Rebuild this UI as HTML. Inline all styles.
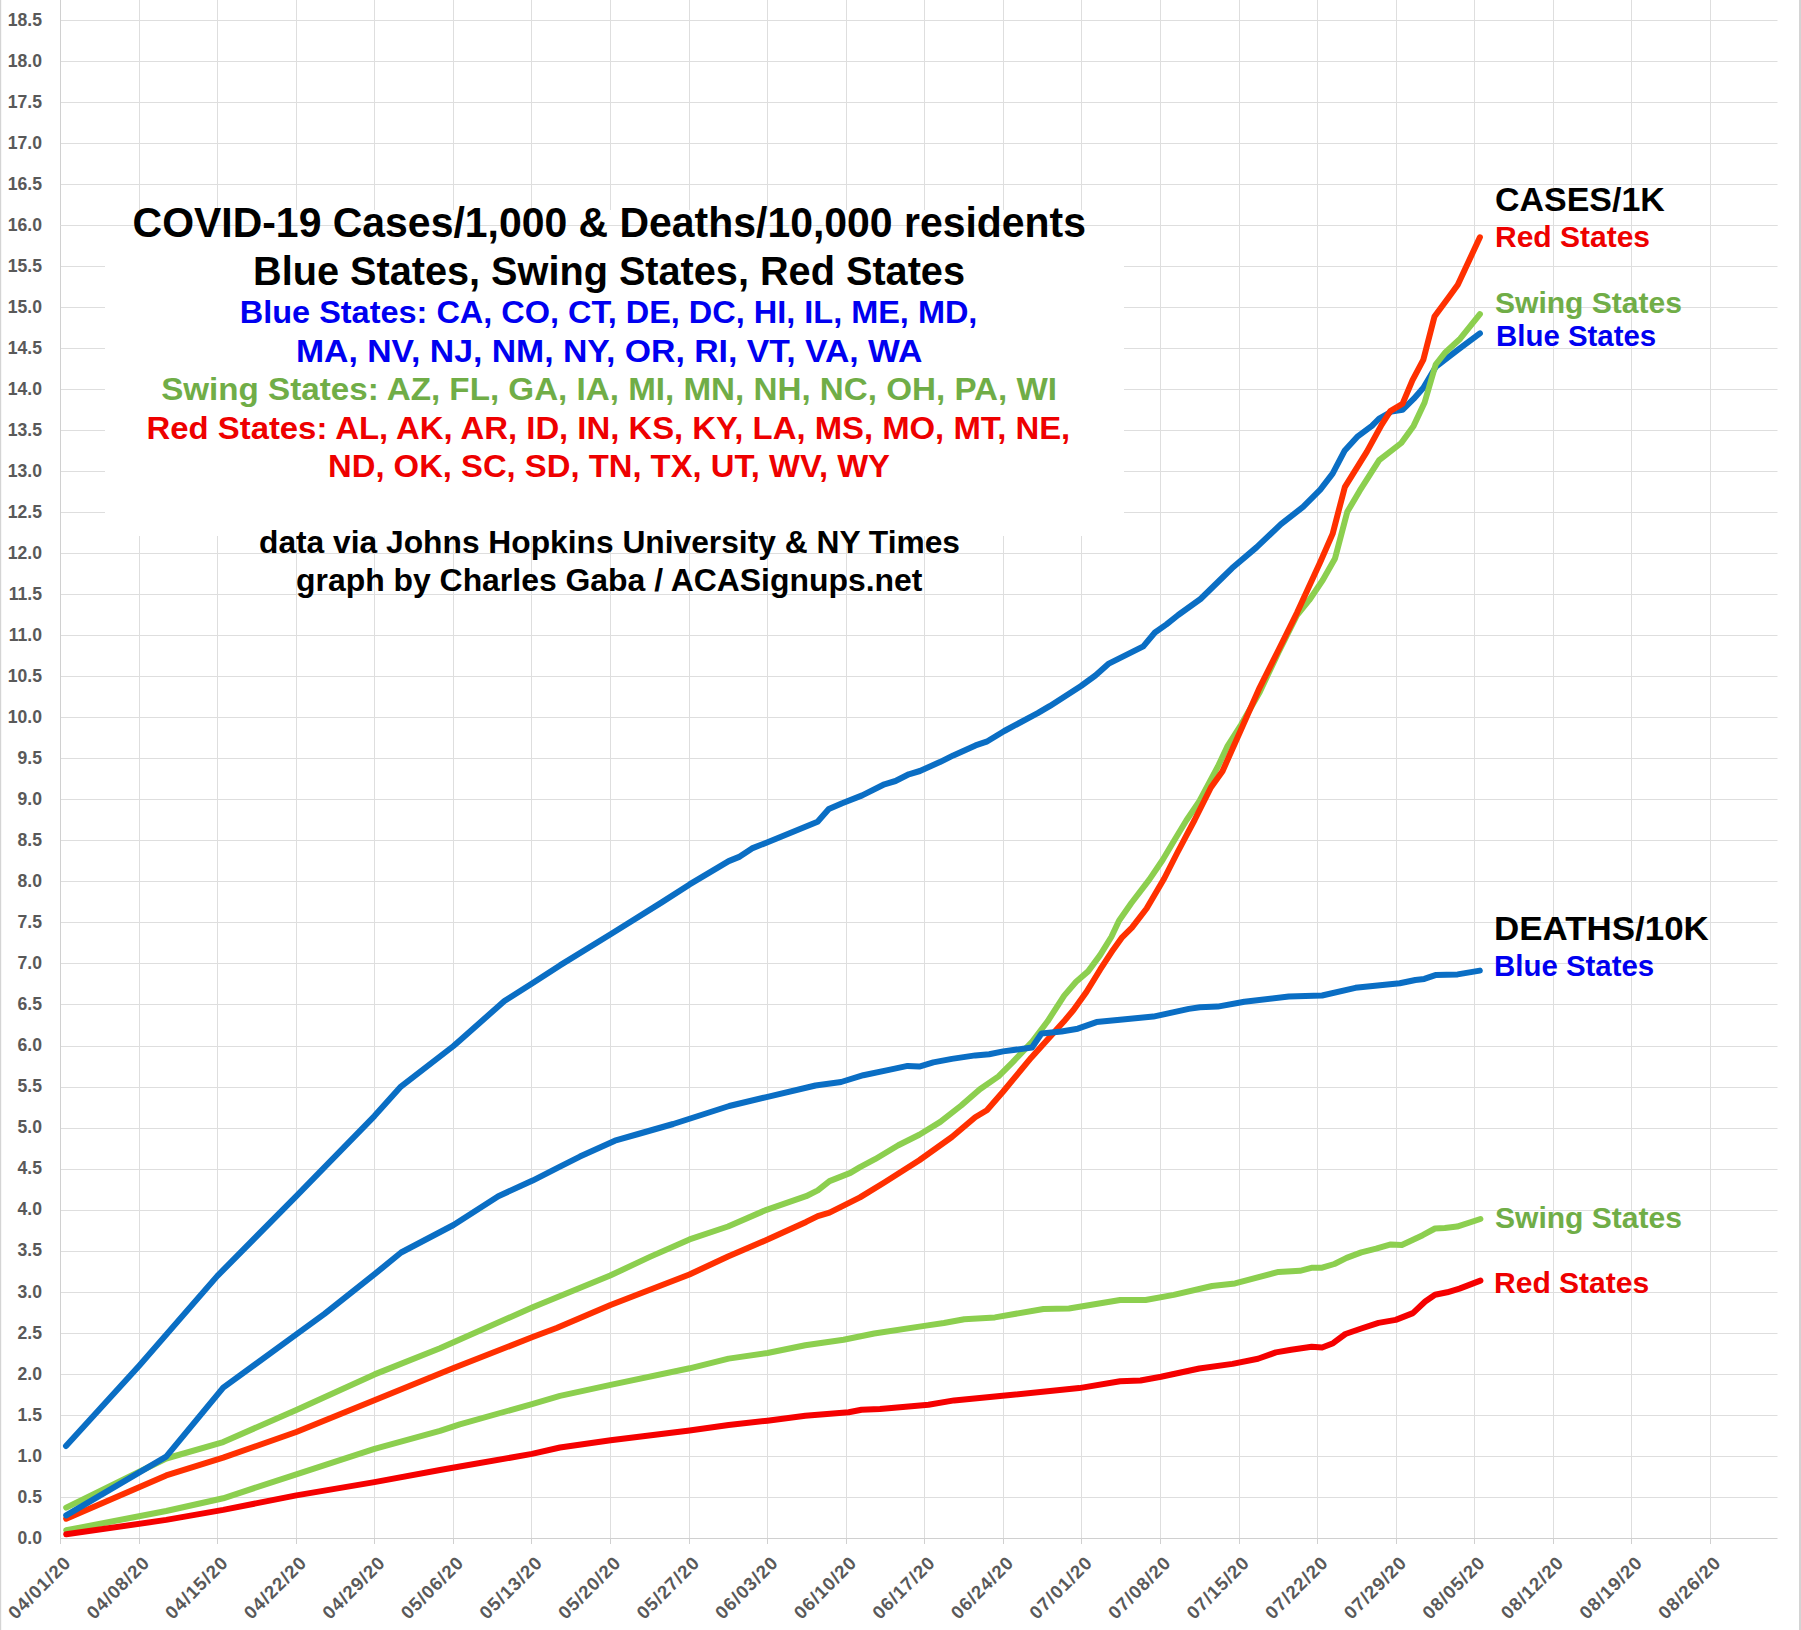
<!DOCTYPE html><html><head><meta charset="utf-8"><style>html,body{margin:0;padding:0;background:#fff;width:1801px;height:1630px;overflow:hidden}svg{display:block}text{font-family:"Liberation Sans",sans-serif;font-weight:bold}</style></head><body>
<svg width="1801" height="1630" viewBox="0 0 1801 1630">
<rect x="0" y="0" width="1801" height="1630" fill="#fff"/>
<rect x="0" y="0" width="1.2" height="1630" fill="#d4d4d4"/>
<rect x="1799" y="0" width="2" height="1630" fill="#d4d4d4"/>
<path d="M60.5 1497.5H1777.5M60.5 1456.5H1777.5M60.5 1415.5H1777.5M60.5 1374.5H1777.5M60.5 1333.5H1777.5M60.5 1292.5H1777.5M60.5 1251.5H1777.5M60.5 1210.5H1777.5M60.5 1169.5H1777.5M60.5 1128.5H1777.5M60.5 1087.5H1777.5M60.5 1046.5H1777.5M60.5 1004.5H1777.5M60.5 963.5H1777.5M60.5 922.5H1777.5M60.5 881.5H1777.5M60.5 840.5H1777.5M60.5 799.5H1777.5M60.5 758.5H1777.5M60.5 717.5H1777.5M60.5 676.5H1777.5M60.5 635.5H1777.5M60.5 594.5H1777.5M60.5 553.5H1777.5M60.5 512.5H1777.5M60.5 471.5H1777.5M60.5 430.5H1777.5M60.5 389.5H1777.5M60.5 348.5H1777.5M60.5 307.5H1777.5M60.5 266.5H1777.5M60.5 225.5H1777.5M60.5 184.5H1777.5M60.5 143.5H1777.5M60.5 102.5H1777.5M60.5 61.5H1777.5M60.5 20.5H1777.5M139.5 0V1538.3M217.5 0V1538.3M296.5 0V1538.3M374.5 0V1538.3M453.5 0V1538.3M531.5 0V1538.3M610.5 0V1538.3M689.5 0V1538.3M767.5 0V1538.3M846.5 0V1538.3M924.5 0V1538.3M1003.5 0V1538.3M1081.5 0V1538.3M1160.5 0V1538.3M1239.5 0V1538.3M1317.5 0V1538.3M1396.5 0V1538.3M1474.5 0V1538.3M1553.5 0V1538.3M1631.5 0V1538.3M1710.5 0V1538.3" stroke="#dedede" stroke-width="1" fill="none"/>
<path d="M60.5 0V1544M139.5 1538V1544M217.5 1538V1544M296.5 1538V1544M374.5 1538V1544M453.5 1538V1544M531.5 1538V1544M610.5 1538V1544M689.5 1538V1544M767.5 1538V1544M846.5 1538V1544M924.5 1538V1544M1003.5 1538V1544M1081.5 1538V1544M1160.5 1538V1544M1239.5 1538V1544M1317.5 1538V1544M1396.5 1538V1544M1474.5 1538V1544M1553.5 1538V1544M1631.5 1538V1544M1710.5 1538V1544" stroke="#d0d0d0" stroke-width="1" fill="none"/>
<path d="M60 1538.5H1777.5" stroke="#d0d0d0" stroke-width="1" fill="none"/>
<rect x="105" y="210" width="1019" height="326" fill="#fff"/>
<path d="M60.5 225.5H1777.5" stroke="#dedede" stroke-width="1" fill="none"/>
<text x="42" y="1543.6" text-anchor="end" font-size="17.6" fill="#595959">0.0</text>
<text x="42" y="1502.6" text-anchor="end" font-size="17.6" fill="#595959">0.5</text>
<text x="42" y="1461.5" text-anchor="end" font-size="17.6" fill="#595959">1.0</text>
<text x="42" y="1420.5" text-anchor="end" font-size="17.6" fill="#595959">1.5</text>
<text x="42" y="1379.5" text-anchor="end" font-size="17.6" fill="#595959">2.0</text>
<text x="42" y="1338.5" text-anchor="end" font-size="17.6" fill="#595959">2.5</text>
<text x="42" y="1297.5" text-anchor="end" font-size="17.6" fill="#595959">3.0</text>
<text x="42" y="1256.4" text-anchor="end" font-size="17.6" fill="#595959">3.5</text>
<text x="42" y="1215.4" text-anchor="end" font-size="17.6" fill="#595959">4.0</text>
<text x="42" y="1174.4" text-anchor="end" font-size="17.6" fill="#595959">4.5</text>
<text x="42" y="1133.3" text-anchor="end" font-size="17.6" fill="#595959">5.0</text>
<text x="42" y="1092.3" text-anchor="end" font-size="17.6" fill="#595959">5.5</text>
<text x="42" y="1051.3" text-anchor="end" font-size="17.6" fill="#595959">6.0</text>
<text x="42" y="1010.3" text-anchor="end" font-size="17.6" fill="#595959">6.5</text>
<text x="42" y="969.2" text-anchor="end" font-size="17.6" fill="#595959">7.0</text>
<text x="42" y="928.2" text-anchor="end" font-size="17.6" fill="#595959">7.5</text>
<text x="42" y="887.2" text-anchor="end" font-size="17.6" fill="#595959">8.0</text>
<text x="42" y="846.2" text-anchor="end" font-size="17.6" fill="#595959">8.5</text>
<text x="42" y="805.1" text-anchor="end" font-size="17.6" fill="#595959">9.0</text>
<text x="42" y="764.1" text-anchor="end" font-size="17.6" fill="#595959">9.5</text>
<text x="42" y="723.1" text-anchor="end" font-size="17.6" fill="#595959">10.0</text>
<text x="42" y="682.1" text-anchor="end" font-size="17.6" fill="#595959">10.5</text>
<text x="42" y="641" text-anchor="end" font-size="17.6" fill="#595959">11.0</text>
<text x="42" y="600" text-anchor="end" font-size="17.6" fill="#595959">11.5</text>
<text x="42" y="559" text-anchor="end" font-size="17.6" fill="#595959">12.0</text>
<text x="42" y="518" text-anchor="end" font-size="17.6" fill="#595959">12.5</text>
<text x="42" y="477" text-anchor="end" font-size="17.6" fill="#595959">13.0</text>
<text x="42" y="435.9" text-anchor="end" font-size="17.6" fill="#595959">13.5</text>
<text x="42" y="394.9" text-anchor="end" font-size="17.6" fill="#595959">14.0</text>
<text x="42" y="353.9" text-anchor="end" font-size="17.6" fill="#595959">14.5</text>
<text x="42" y="312.8" text-anchor="end" font-size="17.6" fill="#595959">15.0</text>
<text x="42" y="271.8" text-anchor="end" font-size="17.6" fill="#595959">15.5</text>
<text x="42" y="230.8" text-anchor="end" font-size="17.6" fill="#595959">16.0</text>
<text x="42" y="189.8" text-anchor="end" font-size="17.6" fill="#595959">16.5</text>
<text x="42" y="148.8" text-anchor="end" font-size="17.6" fill="#595959">17.0</text>
<text x="42" y="107.7" text-anchor="end" font-size="17.6" fill="#595959">17.5</text>
<text x="42" y="66.7" text-anchor="end" font-size="17.6" fill="#595959">18.0</text>
<text x="42" y="25.7" text-anchor="end" font-size="17.6" fill="#595959">18.5</text>
<text transform="translate(72.3 1563.7) rotate(-45)" text-anchor="end" font-size="18.5" fill="#595959" letter-spacing="1">04/01/20</text>
<text transform="translate(150.9 1563.7) rotate(-45)" text-anchor="end" font-size="18.5" fill="#595959" letter-spacing="1">04/08/20</text>
<text transform="translate(229.4 1563.7) rotate(-45)" text-anchor="end" font-size="18.5" fill="#595959" letter-spacing="1">04/15/20</text>
<text transform="translate(308 1563.7) rotate(-45)" text-anchor="end" font-size="18.5" fill="#595959" letter-spacing="1">04/22/20</text>
<text transform="translate(386.6 1563.7) rotate(-45)" text-anchor="end" font-size="18.5" fill="#595959" letter-spacing="1">04/29/20</text>
<text transform="translate(465.1 1563.7) rotate(-45)" text-anchor="end" font-size="18.5" fill="#595959" letter-spacing="1">05/06/20</text>
<text transform="translate(543.7 1563.7) rotate(-45)" text-anchor="end" font-size="18.5" fill="#595959" letter-spacing="1">05/13/20</text>
<text transform="translate(622.3 1563.7) rotate(-45)" text-anchor="end" font-size="18.5" fill="#595959" letter-spacing="1">05/20/20</text>
<text transform="translate(700.9 1563.7) rotate(-45)" text-anchor="end" font-size="18.5" fill="#595959" letter-spacing="1">05/27/20</text>
<text transform="translate(779.4 1563.7) rotate(-45)" text-anchor="end" font-size="18.5" fill="#595959" letter-spacing="1">06/03/20</text>
<text transform="translate(858 1563.7) rotate(-45)" text-anchor="end" font-size="18.5" fill="#595959" letter-spacing="1">06/10/20</text>
<text transform="translate(936.6 1563.7) rotate(-45)" text-anchor="end" font-size="18.5" fill="#595959" letter-spacing="1">06/17/20</text>
<text transform="translate(1015.1 1563.7) rotate(-45)" text-anchor="end" font-size="18.5" fill="#595959" letter-spacing="1">06/24/20</text>
<text transform="translate(1093.7 1563.7) rotate(-45)" text-anchor="end" font-size="18.5" fill="#595959" letter-spacing="1">07/01/20</text>
<text transform="translate(1172.3 1563.7) rotate(-45)" text-anchor="end" font-size="18.5" fill="#595959" letter-spacing="1">07/08/20</text>
<text transform="translate(1250.8 1563.7) rotate(-45)" text-anchor="end" font-size="18.5" fill="#595959" letter-spacing="1">07/15/20</text>
<text transform="translate(1329.4 1563.7) rotate(-45)" text-anchor="end" font-size="18.5" fill="#595959" letter-spacing="1">07/22/20</text>
<text transform="translate(1408 1563.7) rotate(-45)" text-anchor="end" font-size="18.5" fill="#595959" letter-spacing="1">07/29/20</text>
<text transform="translate(1486.6 1563.7) rotate(-45)" text-anchor="end" font-size="18.5" fill="#595959" letter-spacing="1">08/05/20</text>
<text transform="translate(1565.1 1563.7) rotate(-45)" text-anchor="end" font-size="18.5" fill="#595959" letter-spacing="1">08/12/20</text>
<text transform="translate(1643.7 1563.7) rotate(-45)" text-anchor="end" font-size="18.5" fill="#595959" letter-spacing="1">08/19/20</text>
<text transform="translate(1722.3 1563.7) rotate(-45)" text-anchor="end" font-size="18.5" fill="#595959" letter-spacing="1">08/26/20</text>
<polyline points="66,1446 139.4,1365.4 217.4,1275.9 296.3,1196.1 374.4,1116.1 400.9,1086.6 453.5,1046 459.8,1040.5 504.4,1001 532.4,983.2 559.9,965.4 610.6,934.3 662.1,902.1 689.6,884.4 728.7,861.1 739.8,856.6 752,848.4 767.6,842.2 817.6,821.7 828.8,809 842.2,803.2 862.2,795.4 884.4,784.3 895.5,781 908.8,774.3 919.9,771 939.9,762.1 953.3,755.4 975.5,745.4 986.6,741.7 1004.3,731 1037.7,713.2 1050,705.9 1081,686 1095.4,675.5 1108.3,663.9 1143.3,646.4 1154.9,632.5 1166.5,624.4 1178.2,615 1200.5,599 1221,579 1231.9,568.3 1256.5,547.4 1281,524.1 1303.1,506.9 1320.3,489.7 1332.6,473.7 1344.8,450.4 1357.1,436.9 1371.9,425.9 1379.2,418.5 1391.5,411.6 1402.5,409.9 1413.6,398.9 1423.4,387.8 1435.7,366.9 1457.8,349.8 1479.9,333.3" fill="none" stroke="#0a6ec4" stroke-width="6.0" stroke-linejoin="round" stroke-linecap="round"/>
<polyline points="66.2,1507.6 166.2,1458.5 223.2,1442.1 296.3,1409.9 374.5,1374.4 440,1348.3 459.8,1339.5 533.3,1307 610.2,1275.5 649.9,1256.9 689.5,1239.4 728,1226.5 766.5,1209.8 806.1,1196.2 817.8,1190.4 829.5,1181.1 850.4,1172.9 860,1167.1 875,1159.2 898.3,1145.2 919.3,1134.7 940.3,1121.9 961.2,1105.5 979.9,1089.2 998.5,1076.4 1012.5,1062.4 1032.3,1041.6 1047.6,1021.3 1064.2,995.6 1076.1,981.7 1088.1,971.4 1100.1,955.1 1111.3,937 1119,920.7 1131.4,903 1149.3,879.6 1162.6,860 1174.2,840.5 1186.3,820.5 1199.2,801.5 1217.9,766.5 1227.2,746.7 1241.2,724.6 1259.8,691.9 1278.5,652.3 1297.1,615 1309.2,600.2 1322.8,580 1335,558.4 1347.3,511.8 1359.6,490.9 1379.2,460.2 1401.3,443 1413.6,425.9 1424.6,402.5 1435.7,364.5 1445.5,352.2 1460.2,338.7 1479.9,314.2" fill="none" stroke="#8ccf4f" stroke-width="6.0" stroke-linejoin="round" stroke-linecap="round"/>
<polyline points="66.2,1518.7 166.2,1475.4 223.2,1457.7 296.3,1432 374.4,1400.3 453.6,1368 532.6,1337 556.6,1328 610.5,1305 689.4,1274.5 728,1256.5 767.5,1239.6 806.1,1221.9 817.8,1216.1 829.5,1212.6 860,1197.4 884.3,1182.5 919.3,1160.3 951.9,1137 975.2,1117.2 986.9,1110.2 1003.2,1091.5 1031.2,1057.7 1063.8,1021.6 1073.5,1010 1086.4,992 1100.1,969.7 1113,949.9 1121.6,937.9 1131.9,927.6 1146.6,908.5 1164.2,878.5 1176.9,853.5 1185.8,836.6 1194.6,820 1210.9,787.5 1222.5,771.2 1241.2,729.2 1259.8,687.3 1278.5,650 1297.1,612.6 1320.3,562.1 1332.6,533.9 1344.8,487.2 1366.9,451.6 1381.7,424.6 1390.3,411.1 1402.5,403.8 1412.4,380.4 1423.4,359.6 1434.5,316.6 1448,298.2 1457.8,284.7 1479.9,237.3" fill="none" stroke="#ff3000" stroke-width="6.0" stroke-linejoin="round" stroke-linecap="round"/>
<polyline points="66.2,1515.4 166.2,1456.6 223.2,1387.7 296.3,1334.4 324.5,1313.9 374.6,1274.2 401.1,1252.5 453.5,1225 498.3,1196.2 532.6,1180.6 560,1166.6 579.9,1156.6 614.9,1140.7 638.2,1134 673.2,1124 729.2,1106 766.5,1097.1 815.5,1085.5 841.1,1082 863.3,1075.2 891.3,1069.4 907.6,1065.9 919.3,1066.6 933.3,1062.4 951.9,1058.9 975.2,1055.4 989.2,1054.2 1003.2,1051.4 1032,1047.5 1041.5,1033.5 1061.5,1031.5 1077.8,1028.7 1096.5,1022.1 1120,1019.7 1153.3,1016.6 1188.8,1008.9 1199.9,1007.3 1217.7,1006.6 1244.4,1001.7 1288.8,996.6 1322.1,995.5 1355.4,987.8 1399.8,983.3 1415.4,980 1424.3,978.9 1435.4,975.1 1457.6,974.4 1479.8,970.6" fill="none" stroke="#0a6ec4" stroke-width="6.0" stroke-linejoin="round" stroke-linecap="round"/>
<polyline points="66.2,1530.3 166.2,1511 223.2,1498.3 296.3,1474.3 374.5,1448.8 440,1430.9 459.8,1424.3 532,1404.1 560,1395.9 610.6,1384.9 689.6,1368.3 728.6,1358.6 767.5,1353 805.3,1345.3 843.6,1339.7 874.2,1333.5 926,1325.6 943.9,1323 964.3,1319.2 994.9,1317.4 1043.5,1309 1069,1308.5 1120.1,1300 1145.6,1300 1173.7,1294.9 1212,1286 1235,1283.4 1278.5,1271.9 1300,1270.8 1312.3,1267.7 1322.1,1267.7 1334.4,1264 1346.6,1257.9 1361.3,1252.4 1376.1,1248.7 1390.8,1244.4 1401.8,1245 1422.7,1235.2 1435,1228.5 1444.8,1227.9 1457.1,1226.6 1480.4,1219" fill="none" stroke="#8ccf4f" stroke-width="6.0" stroke-linejoin="round" stroke-linecap="round"/>
<polyline points="66.2,1534.3 166.2,1519.9 223.2,1509.9 296.3,1495.4 374.5,1482.1 440,1470 459.8,1466.5 532,1453.9 560,1447.5 610.6,1440.3 689.6,1430.4 728.6,1425 767.5,1420.7 805.3,1415.8 848.7,1412.2 861.5,1409.7 880,1409.1 928.5,1404.7 954.1,1400.4 1007.7,1395.3 1079.2,1388.1 1120.1,1381.3 1140.5,1380.5 1161,1376.7 1199.3,1368.5 1232.5,1363.9 1258,1358.8 1275.9,1352.4 1291.2,1349.8 1311.7,1346.8 1322.1,1347.5 1333.1,1343.2 1345.4,1334 1361.3,1328.5 1378.5,1322.9 1395.7,1319.9 1412.9,1313.1 1425.2,1301.5 1435,1294.7 1447.2,1292.3 1459.5,1288.6 1480.4,1280.6" fill="none" stroke="#f50000" stroke-width="6.0" stroke-linejoin="round" stroke-linecap="round"/>
<text x="132.6" y="237.2" font-size="42.4" fill="#000" textLength="953.4" lengthAdjust="spacingAndGlyphs">COVID-19 Cases/1,000 &amp; Deaths/10,000 residents</text>
<text x="253" y="285" font-size="41" fill="#000" textLength="712" lengthAdjust="spacingAndGlyphs">Blue States, Swing States, Red States</text>
<text x="239.8" y="323" font-size="31.2" fill="#0000f0" textLength="737.6" lengthAdjust="spacingAndGlyphs">Blue States: CA, CO, CT, DE, DC, HI, IL, ME, MD,</text>
<text x="296" y="361.7" font-size="31.2" fill="#0000f0" textLength="626.4" lengthAdjust="spacingAndGlyphs">MA, NV, NJ, NM, NY, OR, RI, VT, VA, WA</text>
<text x="161.2" y="400" font-size="31.2" fill="#70ad47" textLength="895.8" lengthAdjust="spacingAndGlyphs">Swing States: AZ, FL, GA, IA, MI, MN, NH, NC, OH, PA, WI</text>
<text x="146.6" y="438.6" font-size="31.2" fill="#ee0000" textLength="923.6" lengthAdjust="spacingAndGlyphs">Red States: AL, AK, AR, ID, IN, KS, KY, LA, MS, MO, MT, NE,</text>
<text x="328" y="476.6" font-size="31.2" fill="#ee0000" textLength="562" lengthAdjust="spacingAndGlyphs">ND, OK, SC, SD, TN, TX, UT, WV, WY</text>
<text x="259" y="553.3" font-size="31" fill="#000" textLength="701" lengthAdjust="spacingAndGlyphs">data via Johns Hopkins University &amp; NY Times</text>
<text x="296" y="591.3" font-size="31" fill="#000" textLength="626.4" lengthAdjust="spacingAndGlyphs">graph by Charles Gaba / ACASignups.net</text>
<text x="1495" y="211" font-size="34" fill="#000" textLength="169.8" lengthAdjust="spacingAndGlyphs">CASES/1K</text>
<text x="1495" y="247" font-size="30" fill="#ee0000" textLength="155" lengthAdjust="spacingAndGlyphs">Red States</text>
<text x="1495" y="312.9" font-size="30" fill="#70ad47" textLength="187" lengthAdjust="spacingAndGlyphs">Swing States</text>
<text x="1496" y="346" font-size="30" fill="#0000f0" textLength="160.2" lengthAdjust="spacingAndGlyphs">Blue States</text>
<text x="1494" y="940" font-size="34" fill="#000" textLength="214.8" lengthAdjust="spacingAndGlyphs">DEATHS/10K</text>
<text x="1494" y="976" font-size="30" fill="#0000f0" textLength="160.2" lengthAdjust="spacingAndGlyphs">Blue States</text>
<text x="1495" y="1228" font-size="30" fill="#70ad47" textLength="187" lengthAdjust="spacingAndGlyphs">Swing States</text>
<text x="1494" y="1292.6" font-size="30" fill="#ee0000" textLength="155.2" lengthAdjust="spacingAndGlyphs">Red States</text>
</svg></body></html>
